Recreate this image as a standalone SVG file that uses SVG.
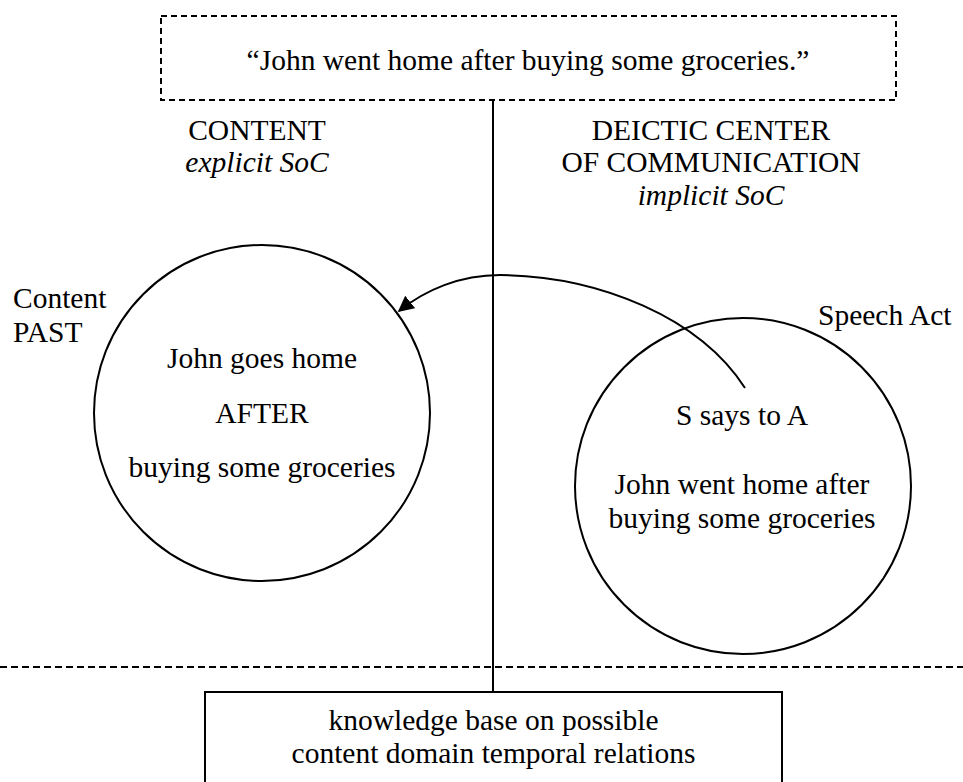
<svg xmlns="http://www.w3.org/2000/svg" width="963" height="782" viewBox="0 0 963 782">
<style>
text{font-family:"Liberation Serif","Times New Roman",serif;font-size:29.5px;fill:#000}
.c{text-anchor:middle}
.i{font-style:italic}
.ln{fill:none;stroke:#000;stroke-width:2}
.dash{fill:none;stroke:#000;stroke-width:2;stroke-dasharray:6 4}
</style>
<defs>
<marker id="ah" viewBox="0 0 10 10" refX="9" refY="5" markerWidth="16" markerHeight="16" markerUnits="userSpaceOnUse" orient="auto">
<path d="M0,0 L10,5 L0,10 z" fill="#000"/>
</marker>
</defs>
<rect width="963" height="782" fill="#fff"/>
<g id="connectors">
<line class="ln" x1="493" y1="100" x2="493" y2="692"/>
<line class="dash" x1="0" y1="667" x2="963" y2="667" style="stroke-dasharray:7 4"/>
<path class="ln" d="M745,388 C700,318 600,276 500,275 C460,275 425,290 399,311" marker-end="url(#ah)"/>
</g>
<g id="utterance">
<rect class="dash" x="161" y="16" width="735" height="84"/>
<text class="c" x="528" y="70">“John went home after buying some groceries.”</text>
</g>
<g id="content-header">
<text class="c" x="257" y="140">CONTENT</text>
<text class="c i" x="257" y="172">explicit SoC</text>
</g>
<g id="deictic-header">
<text class="c" x="711" y="140">DEICTIC CENTER</text>
<text class="c" x="711" y="172">OF COMMUNICATION</text>
<text class="c i" x="711" y="205">implicit SoC</text>
</g>
<g id="content-past">
<text x="13" y="308">Content</text>
<text x="13" y="342">PAST</text>
<circle class="ln" cx="262" cy="413" r="168"/>
<text class="c" x="262" y="368">John goes home</text>
<text class="c" x="262" y="423">AFTER</text>
<text class="c" x="262" y="477">buying some groceries</text>
</g>
<g id="speech-act">
<text x="818" y="325">Speech Act</text>
<circle class="ln" cx="743" cy="486" r="168"/>
<text class="c" x="742" y="425">S says to A</text>
<text class="c" x="742" y="494">John went home after</text>
<text class="c" x="742" y="528">buying some groceries</text>
</g>
<g id="knowledge-base">
<path class="ln" d="M205,782 L205,692 L782,692 L782,782"/>
<text class="c" x="493.5" y="730">knowledge base on possible</text>
<text class="c" x="493.5" y="763">content domain temporal relations</text>
</g>
</svg>
